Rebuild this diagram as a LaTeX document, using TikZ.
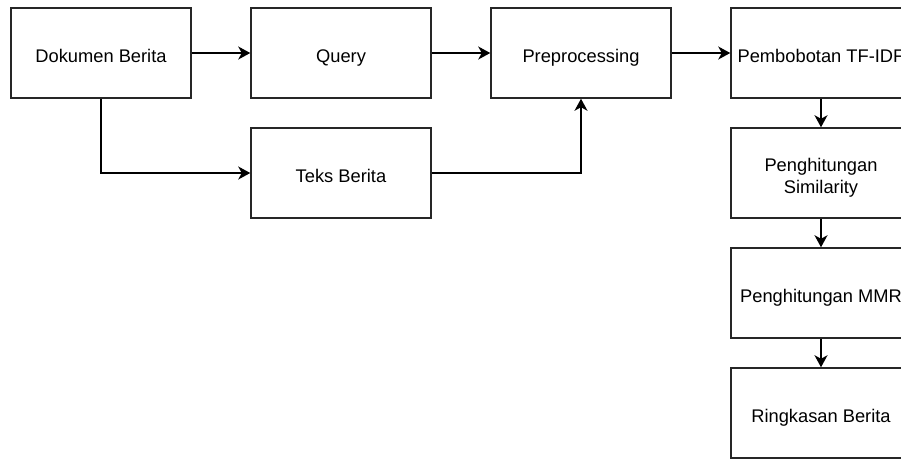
\documentclass[tikz,border=0pt]{standalone}
\usepackage{fontspec}
\setmainfont{Liberation Sans}
\usetikzlibrary{arrows.meta}
\begin{document}
\begin{tikzpicture}[x=1pt,y=-1pt,
  procbox/.style={draw=black!85, line width=1.5pt, fill=white, minimum width=180pt,
    minimum height=90pt, inner sep=0pt, align=center, text height=22pt, text depth=4pt,
    font=\fontsize{18.3}{22}\selectfont},
  twoline/.style={text height=44pt, text depth=4pt},
  flow/.style={draw=black, line width=1.5pt,
    -{Stealth[length=12pt,width=13pt,inset=3.5pt]}}]
\clip (0,0) rectangle (901,459);
\fill[white] (0,0) rectangle (901,459);
% upper row
\node[procbox] (dok) at (101,53) {Dokumen Berita};
\node[procbox] (query) at (341,53) {Query};
\node[procbox] (prep) at (581,53) {Preprocessing};
\node[procbox] (tfidf) at (821,53) {Pembobotan TF-IDF};
% second row
\node[procbox] (teks) at (341,173) {Teks Berita};
% right column
\node[procbox,twoline] (sim) at (821,173) {Penghitungan\\Similarity};
\node[procbox] (mmr) at (821,293) {Penghitungan MMR};
\node[procbox] (ring) at (821,413) {Ringkasan Berita};
% connectors
\draw[flow] (dok) -- (query);
\draw[flow] (query) -- (prep);
\draw[flow] (prep) -- (tfidf);
\draw[flow] (dok.south) |- (teks.west);
\draw[flow] (teks.east) -| (prep.south);
\draw[flow] (tfidf) -- (sim);
\draw[flow] (sim) -- (mmr);
\draw[flow] (mmr) -- (ring);
\end{tikzpicture}
\end{document}
